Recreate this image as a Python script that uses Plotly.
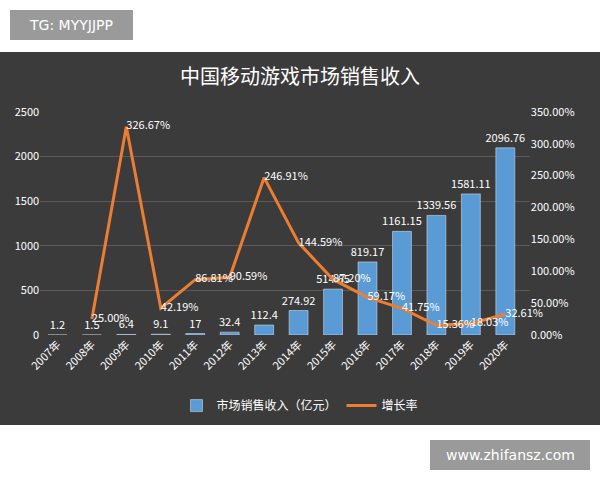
import plotly.graph_objects as go

years = ["2007年","2008年","2009年","2010年","2011年","2012年","2013年","2014年","2015年","2016年","2017年","2018年","2019年","2020年"]
revenue = [1.2,1.5,6.4,9.1,17,32.4,112.4,274.92,514.65,819.17,1161.15,1339.56,1581.11,2096.76]
growth_years = years[1:]
growth = [25.00,326.67,42.19,86.81,90.59,246.91,144.59,87.20,59.17,41.75,15.36,18.03,32.61]

fig = go.Figure()
fig.add_trace(go.Bar(x=years, y=revenue, name="市场销售收入（亿元）",
    marker=dict(color="#5b9bd5"), width=0.55,
    text=[f"{v:g}" for v in revenue], textposition="outside", constraintext="none",
    textfont=dict(color="white", size=11), cliponaxis=False))
fig.add_trace(go.Scatter(x=growth_years, y=growth, name="增长率", yaxis="y2",
    mode="lines+text", line=dict(color="#ed7d31", width=3),
    text=[f"{v:.2f}%" for v in growth], textposition="middle right",
    textfont=dict(color="white", size=11), cliponaxis=False))

fig.update_layout(
    width=600, height=480, autosize=False, margin=dict(l=0, r=0, t=0, b=0, pad=0),
    paper_bgcolor="white", plot_bgcolor="rgba(0,0,0,0)",
    font=dict(family="Noto Sans CJK SC", color="white"),
    showlegend=True,
    legend=dict(orientation="h", x=0.5, xanchor="center", y=0.155, yanchor="middle",
                font=dict(color="white", size=12), bgcolor="rgba(0,0,0,0)"),
    title=dict(text="中国移动游戏市场销售收入", x=0.5, y=0.84, yanchor="middle", automargin=False,
               font=dict(size=20, color="white")),
    xaxis=dict(domain=[0.067, 0.883], tickangle=-45, tickfont=dict(color="white", size=11),
               showgrid=False, showline=False, ticks="", automargin=False),
    yaxis=dict(domain=[0.302, 0.767], range=[0, 2500], dtick=500, tickfont=dict(color="white", size=11),
               gridcolor="#5a5a5a", zeroline=False, automargin=False),
    yaxis2=dict(overlaying="y", side="right", range=[0, 350], dtick=50, ticksuffix=".00%",
                tickfont=dict(color="white", size=11), showgrid=False, zeroline=False, automargin=False),
    shapes=[
        dict(type="rect", xref="paper", yref="paper", x0=0, x1=1, y0=1-425/480, y1=1-52/480,
             fillcolor="#3b3b3b", line=dict(width=0), layer="below"),
        dict(type="rect", xref="paper", yref="paper", x0=10/600, x1=133/600, y0=1-40/480, y1=1-10/480,
             fillcolor="#9a9a9a", line=dict(width=0), layer="below"),
        dict(type="rect", xref="paper", yref="paper", x0=430/600, x1=590/600, y0=1-470/480, y1=1-440/480,
             fillcolor="#9a9a9a", line=dict(width=0), layer="below"),
    ],
    annotations=[
        dict(text="TG: MYYJJPP", xref="paper", yref="paper", x=71/600, y=1-25/480, showarrow=False,
             xanchor="center", yanchor="middle",
             font=dict(color="white", size=14, family="DejaVu Sans")),
        dict(text="www.zhifansz.com", xref="paper", yref="paper", x=510/600, y=1-455/480, showarrow=False,
             xanchor="center", yanchor="middle",
             font=dict(color="white", size=14, family="DejaVu Sans")),
    ],
)
fig.write_html("out.html", config={"displayModeBar": False},
               post_script="document.body.style.margin='0';document.body.style.overflow='hidden';")
